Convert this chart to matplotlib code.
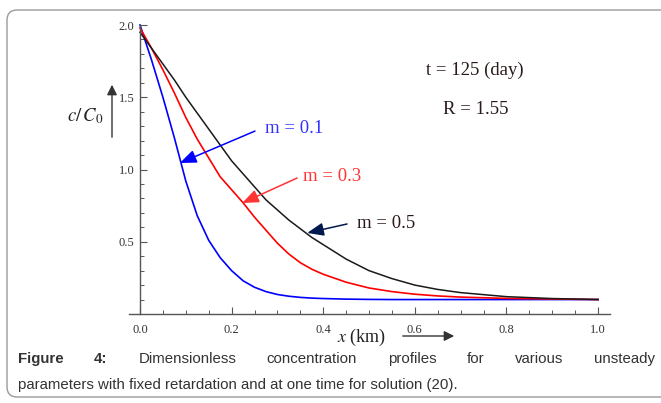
import matplotlib
matplotlib.use("Agg")
import matplotlib.pyplot as plt
from matplotlib import font_manager
from matplotlib.patches import FancyBboxPatch, FancyArrowPatch
from matplotlib.transforms import IdentityTransform
from matplotlib.ticker import MultipleLocator, FixedLocator

plt.rcParams['mathtext.fontset'] = 'stix'

# ---- data ----
x_km = [0.0, 0.025, 0.05, 0.075, 0.1, 0.125, 0.15, 0.175, 0.2, 0.225, 0.25,
        0.275, 0.3, 0.325, 0.35, 0.375, 0.4, 0.45, 0.5, 0.55, 0.6, 0.65, 0.7, 0.8, 0.9, 1.0]
c_m01 = [2.0, 1.76, 1.50, 1.22, 0.92, 0.68, 0.51, 0.39, 0.30, 0.23, 0.185,
         0.155, 0.135, 0.123, 0.115, 0.110, 0.107, 0.103, 0.101, 0.100, 0.100, 0.100,
         0.100, 0.100, 0.100, 0.100]
c_m03 = [1.98, 1.84, 1.69, 1.53, 1.36, 1.21, 1.08, 0.95, 0.86, 0.77, 0.67,
         0.58, 0.49, 0.415, 0.355, 0.31, 0.275, 0.22, 0.18, 0.155, 0.137, 0.125,
         0.117, 0.108, 0.104, 0.100]
c_m05 = [1.95, 1.84, 1.73, 1.62, 1.50, 1.39, 1.28, 1.17, 1.06, 0.97, 0.88,
         0.79, 0.72, 0.65, 0.59, 0.53, 0.48, 0.38, 0.30, 0.245, 0.20, 0.17,
         0.148, 0.12, 0.107, 0.100]

x_ticks = [0.0, 0.2, 0.4, 0.6, 0.8, 1.0]
x_tick_labels = ["0.0", "0.2", "0.4", "0.6", "0.8", "1.0"]
y_ticks = [0.5, 1.0, 1.5, 2.0]
y_tick_labels = ["0.5", "1.0", "1.5", "2.0"]

W, H = 661, 403
fig = plt.figure(figsize=(W / 100, H / 100), dpi=100)
fig.patch.set_facecolor('white')

def fx(px):
    return px / W

def fy(py):
    return 1 - py / H

# rounded frame
frame = FancyBboxPatch((7, H - 397), 680, 387,
                       boxstyle="round,pad=0,rounding_size=10",
                       transform=IdentityTransform(), facecolor='none',
                       edgecolor='#9a9a9a', linewidth=1.0)
fig.patches.append(frame)

ax = fig.add_axes([fx(129), fy(314), (610 - 129) / W, (314 - 25) / H])
ax.set_xlim(-0.024, 1.026)
ax.set_ylim(0, 2.0)

ax.plot(x_km, c_m01, color='#0000ff', lw=1.2, clip_on=False)
ax.plot(x_km, c_m03, color='#ff0000', lw=1.2, clip_on=False)
ax.plot(x_km, c_m05, color='#1a1a1a', lw=1.1, clip_on=False)

for s in ['top', 'right']:
    ax.spines[s].set_visible(False)
ax.spines['left'].set_position(('data', 0))
ax.spines['bottom'].set_position(('data', 0))
for s in ['left', 'bottom']:
    ax.spines[s].set_color('#555555')
    ax.spines[s].set_linewidth(1.0)
ax.patch.set_alpha(0)

serif = 'Liberation Serif'
ax.set_xticks(x_ticks)
ax.set_xticklabels(x_tick_labels, fontfamily=serif, fontsize=9, color='#333333')
ax.xaxis.set_minor_locator(MultipleLocator(0.05))
ax.set_yticks(y_ticks)
ax.set_yticklabels(y_tick_labels, fontfamily=serif, fontsize=9, color='#333333')
ax.yaxis.set_minor_locator(FixedLocator([v / 10 for v in range(1, 20) if v % 5 != 0]))
ax.tick_params(axis='both', which='major', direction='in', length=5, width=0.8, color='#555555')
ax.tick_params(axis='both', which='minor', direction='in', length=3, width=0.7, color='#555555')
ax.tick_params(axis='x', which='major', pad=7)
ax.tick_params(axis='y', which='major', pad=4)

# annotations
txt_col = '#2a1a1a'
ax.text(0.731, 1.689, 't = 125 (day)', fontfamily=serif, fontsize=13.5, color=txt_col,
        ha='center', va='center')
ax.text(0.734, 1.412, 'R = 1.55', fontfamily=serif, fontsize=13.5, color=txt_col,
        ha='center', va='center')

def label(text, col, tx, ty, ax0, ay0, hx, hy, acol):
    ax.text(tx, ty, text, fontfamily=serif, fontsize=13.5, color=col, ha='left', va='center')
    ax.annotate('', xy=(hx, hy), xytext=(ax0, ay0),
                arrowprops=dict(arrowstyle='-|>,head_length=1.0,head_width=0.4',
                                color=acol, lw=1.1, shrinkA=0, shrinkB=0))

label('m = 0.1', '#3333ff', 0.273, 1.287, 0.251, 1.266, 0.087, 1.045, '#0000ff')
label('m = 0.3', '#ff3333', 0.356, 0.955, 0.343, 0.941, 0.223, 0.768, '#ff3333')
label('m = 0.5', txt_col, 0.474, 0.623, 0.452, 0.623, 0.365, 0.561, '#001a4d')

# axis labels with arrows (figure coords)
fig.text(fx(85), fy(116), r'$c/\,C_0$', fontsize=13.5, color='#222222', ha='center', va='center')
fig.add_artist(FancyArrowPatch(
    (fx(112), fy(140)), (fx(112), fy(82)), transform=fig.transFigure,
    arrowstyle='-|>,head_length=4,head_width=2', color='#333333', lw=1.0, mutation_scale=1.5))
fig.text(fx(362), fy(337), r'$x$ (km)', fontsize=13, fontfamily=serif, color='#222222',
         ha='center', va='center')
fig.add_artist(FancyArrowPatch(
    (fx(400), fy(336)), (fx(457), fy(336)), transform=fig.transFigure,
    arrowstyle='-|>,head_length=4,head_width=2', color='#333333', lw=1.0, mutation_scale=1.5))

# caption, first line justified
cap_col = '#333333'
avail = {f.name for f in font_manager.fontManager.ttflist}
if 'Liberation Sans Narrow' in avail:
    cap_font, cap_size = 'Liberation Sans Narrow', 13
else:
    cap_font, cap_size = 'Liberation Sans', 10.8
words = [("Figure", 'bold'), ("4:", 'bold'), ("Dimensionless", 'normal'),
         ("concentration", 'normal'), ("profiles", 'normal'), ("for", 'normal'),
         ("various", 'normal'), ("unsteady", 'normal')]
renderer = fig.canvas.get_renderer()
tmp = []
for w, wt in words:
    t = fig.text(0, 0, w, fontfamily=cap_font, fontsize=cap_size, fontweight=wt)
    tmp.append(t)
widths = [t.get_window_extent(renderer).width for t in tmp]
for t in tmp:
    t.remove()
x0, x1 = 18, 655
gap = (x1 - x0 - sum(widths)) / (len(words) - 1)
xp = x0
for (w, wt), wd in zip(words, widths):
    fig.text(fx(xp), fy(363), w, fontfamily=cap_font, fontsize=cap_size, fontweight=wt,
             color=cap_col, ha='left', va='baseline')
    xp += wd + gap
fig.text(fx(18), fy(389), "parameters with fixed retardation and at one time for solution (20).",
         fontfamily=cap_font, fontsize=cap_size, color=cap_col, ha='left', va='baseline')

fig.savefig('out.png', dpi=100)
